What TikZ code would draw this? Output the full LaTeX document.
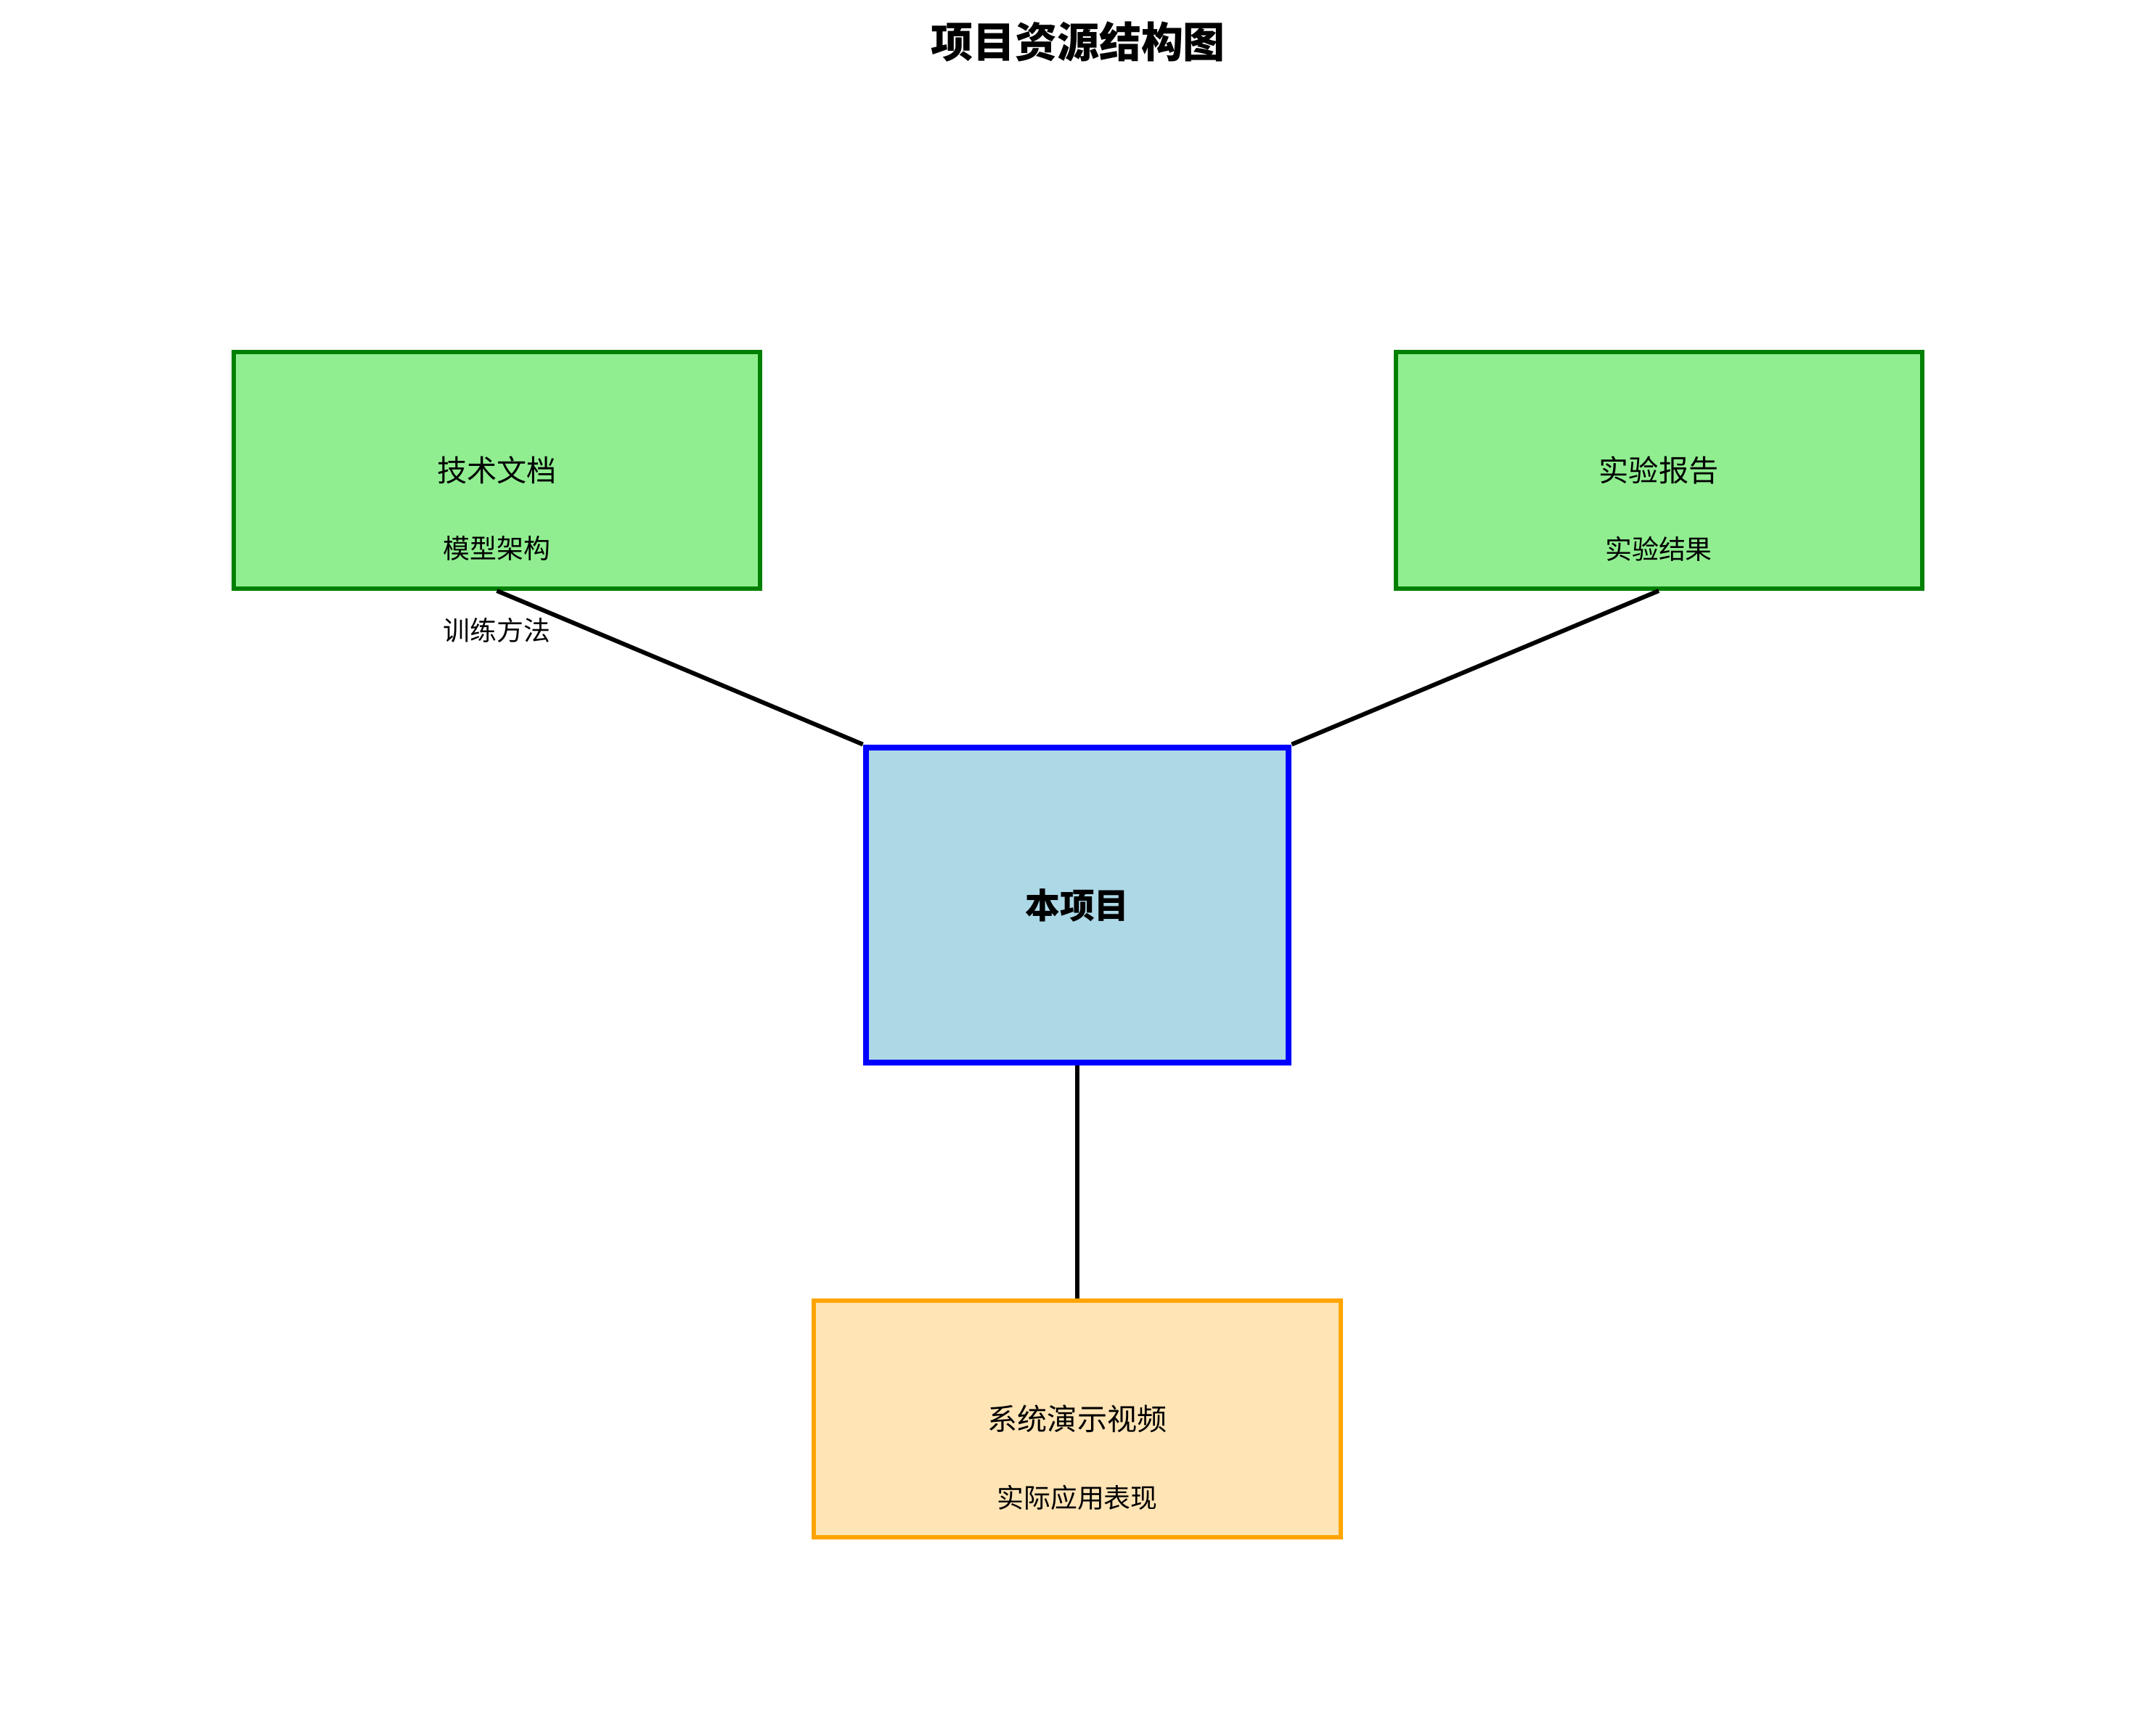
\documentclass[tikz,border=0pt]{standalone}
\usepackage{fontspec}
\setmainfont{Noto Sans CJK SC}

\definecolor{docfill}{HTML}{90EE90}
\definecolor{docline}{HTML}{008000}
\definecolor{projfill}{HTML}{ADD8E6}
\definecolor{projline}{HTML}{0000FF}
\definecolor{videofill}{HTML}{FFE4B5}
\definecolor{videoline}{HTML}{FFA500}

\tikzset{
  docbox/.style={draw=docline, fill=docfill, line width=1.7pt, minimum width=7.25cm, minimum height=3.26cm, inner sep=0pt},
  projbox/.style={draw=projline, fill=projfill, line width=2.5pt, minimum width=5.82cm, minimum height=4.34cm, inner sep=0pt},
  videobox/.style={draw=videoline, fill=videofill, line width=1.7pt, minimum width=7.26cm, minimum height=3.26cm, inner sep=0pt},
  mainlabel/.style={font=\fontsize{11.7}{14}\selectfont, inner sep=0pt},
  sublabel/.style={font=\fontsize{10.5}{13}\selectfont, inner sep=0pt},
  link/.style={line width=1.7pt, black}
}

\begin{document}
\begin{tikzpicture}
    \useasboundingbox (0,0) rectangle (29.70,23.67);

    % Title
    \node[font=\bfseries\fontsize{16.5}{20}\selectfont] (title) at (14.85,23.10) {项目资源结构图};

    % Draw boxes
    \node[docbox] (techdoc) at (6.845,17.19) {};
    \node[docbox] (report) at (22.85,17.19) {};
    \node[projbox] (project) at (14.84,11.20) {};
    \node[videobox] (video) at (14.84,4.12) {};

    % Connect boxes
    \draw[link] (techdoc.south) -- (project.north west);
    \draw[link] (report.south) -- (project.north east);
    \draw[link] (project.south) -- (video.north);

    % Labels
    \node[mainlabel] (techdoc-t) at (techdoc.center) {技术文档};
    \node[sublabel] (techdoc-a) at ([yshift=-1.08cm]techdoc.center) {模型架构};
    \node[sublabel] (techdoc-b) at ([yshift=-2.20cm]techdoc.center) {训练方法};

    \node[mainlabel] (report-t) at (report.center) {实验报告};
    \node[sublabel] (report-a) at ([yshift=-1.08cm]report.center) {实验结果};

    \node[font=\bfseries\fontsize{13.6}{16}\selectfont, inner sep=0pt] (project-t) at (project.center) {本项目};

    \node[mainlabel] (video-t) at (video.center) {系统演示视频};
    \node[sublabel] (video-a) at ([yshift=-1.08cm]video.center) {实际应用表现};
\end{tikzpicture}
\end{document}
